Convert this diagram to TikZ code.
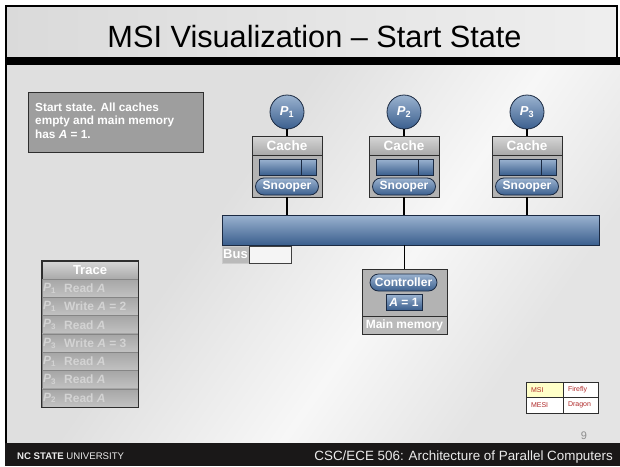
\documentclass[tikz,border=0pt]{standalone}
\usepackage{fontspec}
\setmainfont{Liberation Sans}
\usetikzlibrary{shapes.misc}

\newcommand\pxfont[1]{\fontsize{#1}{#1}\selectfont}

\definecolor{bluetop}{HTML}{9BB3D0}
\definecolor{bluebot}{HTML}{3B5F8E}
\definecolor{navy}{HTML}{1B2A42}
\definecolor{boxgray}{HTML}{B3B3B3}
\definecolor{edgegray}{HTML}{2E2E2E}
\definecolor{headtop}{HTML}{D6D6D6}
\definecolor{headbot}{HTML}{A9A9A9}
\definecolor{rowtop}{HTML}{A6A6A6}
\definecolor{rowbot}{HTML}{C2C2C2}
\definecolor{rowtext}{HTML}{D3D3D3}
\definecolor{legred}{HTML}{B02A2A}
\definecolor{legyellow}{HTML}{FFFFC8}
\definecolor{bgA}{HTML}{DFDFDF}
\definecolor{bgW}{HTML}{F7F7F7}
\definecolor{bgB}{HTML}{E4E4E4}
\definecolor{footer}{HTML}{1A1818}

\pgfdeclarehorizontalshading{slideglow}{100bp}{color(0bp)=(bgA); color(40bp)=(bgA); color(58bp)=(bgW); color(72bp)=(bgB); color(100bp)=(bgB)}

\tikzset{
  wire/.style={line width=1.6pt, black},
  procnode/.style={circle, draw=navy, line width=0.8pt, top color=bluetop, bottom color=bluebot,
    minimum size=34pt, inner sep=0pt, text=white, font=\pxfont{13}\bfseries\itshape},
  unitbox/.style={rectangle, draw=edgegray, line width=0.8pt, fill=boxgray, inner sep=0pt},
  unithead/.style={rectangle, draw=edgegray, line width=0.6pt, top color=headtop, bottom color=headbot,
    inner sep=0pt, text=white, font=\pxfont{13.5}\bfseries},
  bluefield/.style={rectangle, draw=navy, line width=0.7pt, top color=bluetop, bottom color=bluebot,
    inner sep=0pt, minimum height=16pt},
  pill/.style={rounded rectangle, draw=navy, line width=0.8pt, top color=bluetop, bottom color=bluebot,
    inner sep=0pt, minimum height=17pt, text=white, font=\pxfont{12}\bfseries},
  footlabel/.style={rectangle, draw=edgegray, line width=0.6pt, fill=headbot!80!white, inner sep=0pt,
    text=white, font=\pxfont{12}\bfseries},
  tracehead/.style={rectangle, draw=edgegray, line width=0.8pt, top color=headtop, bottom color=headbot,
    minimum width=96pt, minimum height=18pt, inner sep=0pt, text=white, font=\pxfont{13}\bfseries},
  tracerow/.style={rectangle, draw=rowtop!80!black, line width=0.4pt, top color=rowtop, bottom color=rowbot,
    minimum width=96pt, minimum height=18.29pt, inner sep=0pt},
  tracetext/.style={inner sep=0pt, anchor=west, text=rowtext, font=\pxfont{12}\bfseries},
  legcell/.style={rectangle, draw=edgegray, line width=0.6pt, fill=white, inner xsep=5pt, inner ysep=0pt,
    minimum height=15.5pt, align=left, text=legred, font=\pxfont{7}},
}

\begin{document}
\begin{tikzpicture}[x=1pt,y=-1pt]
\useasboundingbox (0,0) rectangle (620,466);
\fill[white] (0,0) rectangle (620,466);

% slide background and frame
\shade[shading=slideglow, shading angle=-35] (6,65) rectangle (620,443);
\shade[left color=headtop!90!white, right color=headtop!40!white] (6,6) rectangle (617,57);
\fill[black] (5,57) rectangle (620,65);
\draw[line width=2pt, black] (6,443) -- (6,6) -- (617,6) -- (617,57);
\fill[footer] (5,443) rectangle (620,466);

% title and footer texts
\node[anchor=base, inner sep=0pt, font=\pxfont{30.7}] (title) at (314.5,47) {MSI Visualization – Start State};
\node[anchor=base west, inner sep=0pt, text=white!92!black, font=\pxfont{9.6}] (ncsu) at (17,459)
  {\textbf{NC STATE} UNIVERSITY};
\node[anchor=base east, inner sep=0pt, text=white!92!black, font=\pxfont{13.4}] (course) at (613,460)
  {CSC/ECE 506: Architecture of Parallel Computers};
\node[anchor=base, inner sep=0pt, text=black!45, font=\pxfont{11}] (pageno) at (584,439) {9};

% description box
\node[rectangle, draw=edgegray, line width=0.8pt, fill=black!38, minimum width=175pt, minimum height=60pt,
  inner sep=0pt] (desc) at (115.5,122) {};
\node[anchor=north west, inner sep=0pt, align=left, text=white, font=\pxfont{11.8}\bfseries,
  execute at begin node={\baselineskip=13.6pt}] (desctext) at (35,102.4)
  {Start state. All caches\\empty and main memory\\has \textit{A} = 1.};

% bus
\node[rectangle, draw=navy, line width=0.8pt, top color=bluetop, bottom color=bluebot,
  minimum width=377pt, minimum height=30pt, inner sep=0pt] (bus) at (410.5,230) {};
\node[rectangle, draw=black!20, line width=0.5pt, fill=black!27, minimum width=27pt, minimum height=17pt,
  inner sep=0pt, text=white, font=\pxfont{13}\bfseries] (buslab) at (235.5,254.5) {Bus};
\node[rectangle, draw=black!75, line width=0.7pt, fill=black!4, minimum width=42pt, minimum height=17pt,
  inner sep=0pt] (busmsg) at (270,254.5) {};

% processors with their caches
\foreach \i/\x in {1/287,2/404,3/527} {
  \node[procnode] (p\i) at (\x,112) {P\textsubscript{\upshape\i}};
  \node[unitbox, minimum width=70pt, minimum height=61pt] (cache\i) at (\x,166.5) {};
  \node[unithead, minimum width=70pt, minimum height=19pt] (head\i) at (\x,145.5) {Cache};
  \node[bluefield, minimum width=42pt] (data\i) at (\x-7,167) {};
  \node[bluefield, minimum width=15pt] (state\i) at (\x+21.5,167) {};
  \node[pill, minimum width=63pt] (snoop\i) at (\x,186.5) {Snooper};
  \draw[wire] (p\i.south) -- (cache\i.north);
  \draw[wire] (cache\i.south) -- (cache\i.south |- bus.north);
}

% main memory
\node[unitbox, minimum width=85pt, minimum height=65pt] (mem) at (404.5,301.5) {};
\node[pill, minimum width=67pt] (ctrl) at (403.5,282.5) {Controller};
\node[bluefield, minimum width=36pt, text=white, font=\pxfont{12}\bfseries] (aval) at (404,302) {\textit{A} = 1};
\node[footlabel, minimum width=85pt, minimum height=18pt] (memlab) at (404.5,325) {Main memory};
\draw[wire] (mem.north |- bus.south) -- (mem.north);

% trace table
\node[tracehead] (trace) at (90,270) {Trace};
\foreach \i/\p/\act in {1/1/{Read \textit{A}}, 2/1/{Write \textit{A} = 2}, 3/3/{Read \textit{A}},
    4/3/{Write \textit{A} = 3}, 5/1/{Read \textit{A}}, 6/3/{Read \textit{A}}, 7/2/{Read \textit{A}}} {
  \node[tracerow] (row\i) at (90,{279+18.29*(\i-0.5)}) {};
  \node[tracetext] (rowp\i) at (43,{279+18.29*(\i-0.5)}) {\textit{P}\textsubscript{\p}};
  \node[tracetext] (rowa\i) at (64,{279+18.29*(\i-0.5)}) {\act};
}
\draw[edgegray, line width=0.8pt] (trace.north west) rectangle (row7.south east);

% protocol legend
\node[legcell, fill=legyellow, text width=27pt] (legmsi) at (544.5,389.75) {MSI};
\node[legcell, text width=25pt] (legfirefly) at (580.5,389.75) {Firefly};
\node[legcell, text width=27pt] (legmesi) at (544.5,405.25) {MESI};
\node[legcell, text width=25pt] (legdragon) at (580.5,405.25) {Dragon};
\end{tikzpicture}
\end{document}
